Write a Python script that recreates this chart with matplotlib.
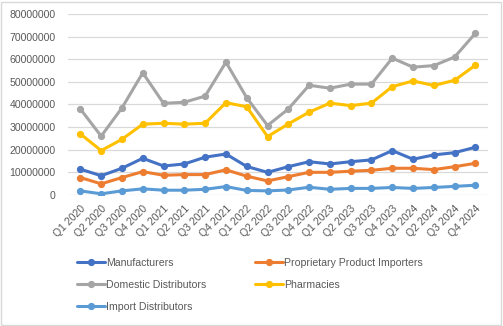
import matplotlib.pyplot as plt
from matplotlib.patches import Rectangle

quarters = ["Q1 2020", "Q2 2020", "Q3 2020", "Q4 2020",
            "Q1 2021", "Q2 2021", "Q3 2021", "Q4 2021",
            "Q1 2022", "Q2 2022", "Q3 2022", "Q4 2022",
            "Q1 2023", "Q2 2023", "Q3 2023", "Q4 2023",
            "Q1 2024", "Q2 2024", "Q3 2024", "Q4 2024"]

manufacturers = [11.4, 8.5, 11.8, 16.2, 12.8, 13.7, 16.7, 18.1, 12.6, 10.0,
                 12.5, 14.7, 13.7, 14.7, 15.5, 19.6, 15.8, 17.7, 18.7, 21.1]
proprietary = [7.7, 4.9, 7.7, 10.3, 8.7, 9.0, 9.0, 11.1, 8.3, 6.2,
               8.1, 10.0, 10.0, 10.5, 10.9, 11.8, 11.8, 11.2, 12.5, 14.0]
domestic = [38.0, 26.0, 38.5, 54.0, 40.5, 41.0, 43.7, 58.7, 43.0, 30.7,
            38.0, 48.5, 47.2, 49.0, 49.0, 60.5, 56.5, 57.2, 61.0, 71.5]
pharmacies = [27.0, 19.6, 24.6, 31.3, 31.7, 31.3, 31.7, 40.8, 39.0, 25.8,
              31.4, 36.6, 40.6, 39.5, 40.6, 47.9, 50.4, 48.4, 50.7, 57.4]
importers = [1.8, 0.5, 1.8, 2.7, 2.1, 2.1, 2.5, 3.7, 2.0, 1.8,
             2.2, 3.4, 2.5, 2.9, 2.9, 3.3, 2.9, 3.3, 3.8, 4.3]

series = [("Manufacturers", manufacturers, "#4472C4"),
          ("Proprietary Product Importers", proprietary, "#ED7D31"),
          ("Domestic Distributors", domestic, "#A5A5A5"),
          ("Pharmacies", pharmacies, "#FFC000"),
          ("Import Distributors", importers, "#5B9BD5")]

plt.rcParams['font.family'] = ['Liberation Sans', 'DejaVu Sans']
text_color = "#595959"

fig = plt.figure(figsize=(5.03, 3.26), dpi=100)
ax = fig.add_axes([0.135, 0.402, 0.835, 0.555])

x = range(len(quarters))
lines = {}
for name, vals, color in series:
    lines[name], = ax.plot(x, [v * 1e6 for v in vals], color=color, lw=2.2, marker="o",
                           markersize=4.2, label=name, solid_capstyle="round")

ax.set_ylim(0, 80000000)
ax.set_yticks(range(0, 80000001, 10000000))
ax.set_yticklabels([str(v) for v in range(0, 80000001, 10000000)])
ax.set_xlim(-0.6, len(quarters) - 0.4)
ax.set_xticks(list(x))
ax.set_xticklabels(quarters, rotation=45, ha="right", rotation_mode="anchor")
ax.grid(axis="y", color="#D9D9D9", lw=0.9)
ax.set_axisbelow(True)
for s in ax.spines.values():
    s.set_visible(False)
ax.tick_params(length=0, labelsize=7.6, colors=text_color)
ax.tick_params(axis="y", pad=9)
ax.tick_params(axis="x", pad=6)

# legend fills column by column, so order entries to read row by row
order = ["Manufacturers", "Domestic Distributors", "Import Distributors",
         "Proprietary Product Importers", "Pharmacies"]
leg = fig.legend([lines[n] for n in order], order, loc="lower left",
                 bbox_to_anchor=(0.135, 0.015), ncol=2,
                 frameon=False, fontsize=7.6, handlelength=2.6,
                 handletextpad=0.15, columnspacing=4.6, labelspacing=1.12)
for t in leg.get_texts():
    t.set_color(text_color)

# outer chart border
fig.patches.append(Rectangle((0.002, 0.003), 0.994, 0.992, transform=fig.transFigure,
                             fill=False, edgecolor="#D9D9D9", lw=1.0))

fig.savefig("out.png", dpi=100)
